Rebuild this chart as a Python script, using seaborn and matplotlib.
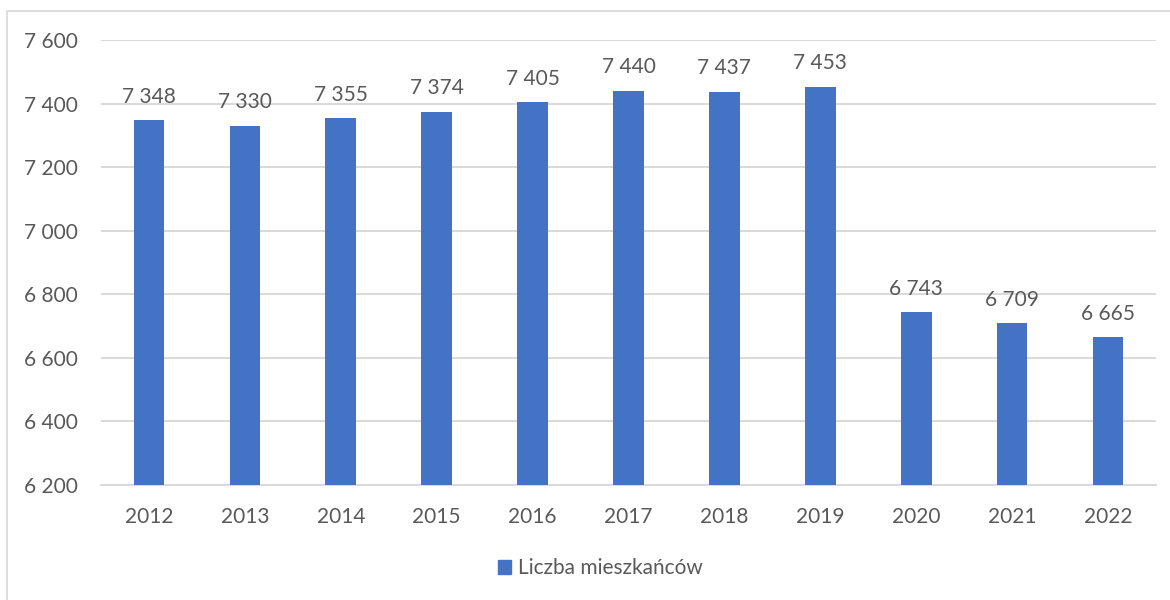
import matplotlib
matplotlib.use("Agg")
import matplotlib.pyplot as plt
import matplotlib.patches as mpatches
import seaborn as sns
import pandas as pd

years = ["2012", "2013", "2014", "2015", "2016", "2017", "2018", "2019", "2020", "2021", "2022"]
residents = [7348, 7330, 7355, 7374, 7405, 7440, 7437, 7453, 6743, 6709, 6665]
y_ticks = [6200, 6400, 6600, 6800, 7000, 7200, 7400, 7600]
series_name = "Liczba mieszkańców"

def fmt(v):
    return f"{v:,.0f}".replace(",", " ")

sns.set_theme(style="white")
plt.rcParams["font.family"] = ["Lato", "DejaVu Sans"]

blue = "#4472C4"
text_col = "#595959"
grid_col = "#D9D9D9"
fs = 15

df = pd.DataFrame({"Rok": years, "Wartosc": residents})

fig = plt.figure(figsize=(11.7, 6), dpi=100)
ax = fig.add_axes([101 / 1170, 1 - 485 / 600, (1156 - 101) / 1170, (485 - 40) / 600])

sns.barplot(data=df, x="Rok", y="Wartosc", color=blue, width=0.32, ax=ax,
            saturation=1, linewidth=0, zorder=3)

ax.set_xlim(-0.5, len(years) - 0.5)
ax.set_ylim(6200, 7600)
ax.set_yticks(y_ticks)
ax.set_yticklabels([fmt(t) for t in y_ticks])
ax.set_xlabel("")
ax.set_ylabel("")
ax.grid(axis="y", color=grid_col, linewidth=1.4, zorder=0)
for s in ["top", "right", "left"]:
    ax.spines[s].set_visible(False)
ax.spines["bottom"].set_color(grid_col)
ax.spines["bottom"].set_linewidth(1.4)
ax.tick_params(axis="both", length=0, labelsize=fs, labelcolor=text_col)
ax.tick_params(axis="x", pad=16)
ax.tick_params(axis="y", pad=17)

for i, v in enumerate(residents):
    ax.annotate(fmt(v), xy=(i, v), xytext=(0, 12.5), textcoords="offset points",
                ha="center", va="baseline", fontsize=fs, color=text_col, zorder=4)

handle = mpatches.Patch(color=blue, label=series_name)
fig.legend(handles=[handle], loc="center", bbox_to_anchor=(600 / 1170, 1 - 568 / 600),
           frameon=False, fontsize=fs, labelcolor=text_col, handlelength=0.65,
           handleheight=0.65, handletextpad=0.3)

border = mpatches.Rectangle((7 / 1170, -0.1), 1.2, 1.1 - 10.5 / 600,
                            transform=fig.transFigure, fill=False,
                            edgecolor=grid_col, linewidth=1.2)
fig.patches.append(border)

fig.savefig("out.png", dpi=100)
